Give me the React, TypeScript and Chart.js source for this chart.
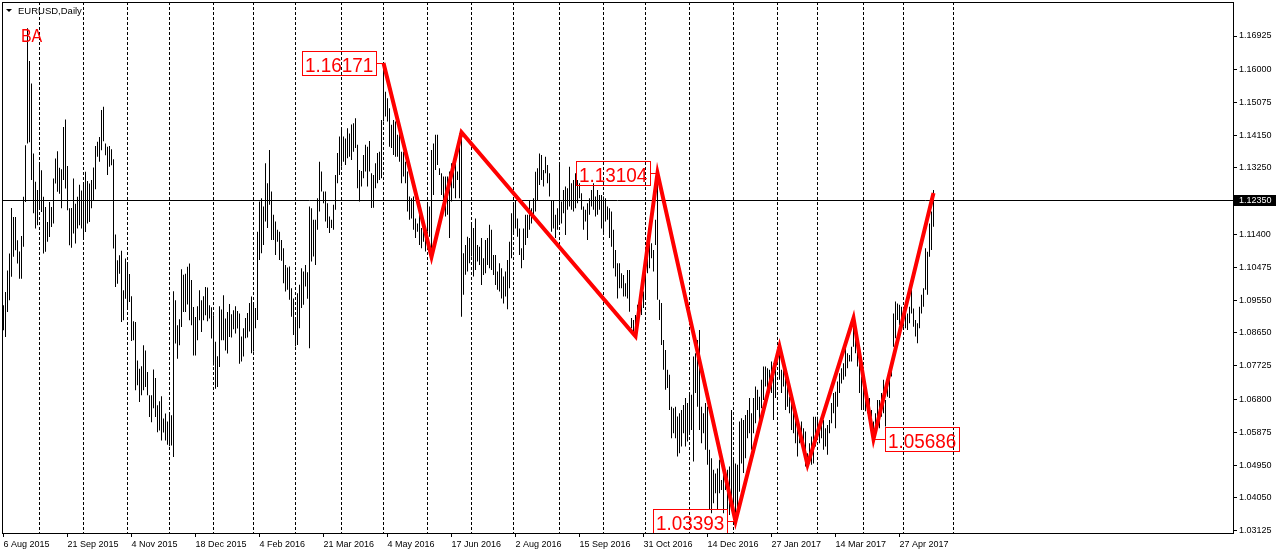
import React, { useEffect, useRef } from "react";
import { Chart, registerables } from "chart.js";

Chart.register(...registerables);

const chartTitle = "EURUSD,Daily";
const indicatorText = "BA";
const firstBarIndex = 1;

// Daily highs (bar 1 = 6 Aug 2015)
const highs = [
  1.0942, 1.0979, 1.1039, 1.1086, 1.1213, 1.1188, 1.1188, 1.1123, 1.1092, 1.1135, 1.1244, 1.1388, 1.1714, 1.1623, 1.156, 1.1365, 1.1286, 1.1263, 1.1334, 1.1318,
  1.1244, 1.1216, 1.1174, 1.123, 1.1216, 1.1295, 1.1351, 1.1371, 1.1325, 1.1321, 1.1439, 1.146, 1.133, 1.1212, 1.1213, 1.1295, 1.1225, 1.1244, 1.1278, 1.1262,
  1.1281, 1.1314, 1.1288, 1.1281, 1.1291, 1.1326, 1.1386, 1.1398, 1.1411, 1.1486, 1.1495, 1.1393, 1.1384, 1.1386, 1.1377, 1.1349, 1.1139, 1.1067, 1.1081, 1.1094,
  1.0984, 1.1072, 1.1058, 1.1029, 1.0967, 1.0897, 1.0895, 1.0788, 1.0765, 1.0772, 1.083, 1.0816, 1.0756, 1.0691, 1.0691, 1.0763, 1.0739, 1.0663, 1.0674, 1.0688,
  1.0626, 1.064, 1.0618, 1.0637, 1.0635, 1.0981, 1.0956, 1.0886, 1.0903, 1.1042, 1.1027, 1.103, 1.1049, 1.1058, 1.1012, 1.0937, 1.0909, 1.0939, 1.0984, 1.0956,
  1.0967, 1.0993, 1.0991, 1.0942, 1.0936, 1.0914, 1.084, 1.08, 1.0939, 1.093, 1.097, 1.0905, 1.0923, 1.0945, 1.0917, 1.0928, 1.0939, 1.0926, 1.0919,
  1.0855, 1.0878, 1.0906, 1.092, 1.0948, 1.0966, 1.0948, 1.0934, 1.1147, 1.1231, 1.124, 1.1217, 1.1338, 1.1282, 1.1375, 1.1259, 1.1194, 1.1175, 1.1152, 1.1147,
  1.1124, 1.1101, 1.1054, 1.1047, 1.105, 1.0989, 1.0961, 1.0906, 1.0975, 1.0999, 1.1045, 1.1036, 1.1054, 1.1034, 1.1217, 1.1212, 1.118, 1.118, 1.124, 1.1342,
  1.1315, 1.1259, 1.1259, 1.1226, 1.1189, 1.118, 1.1222, 1.1305, 1.1366, 1.1412, 1.1437, 1.1412, 1.1407, 1.1435, 1.1421, 1.1446, 1.1449, 1.1463, 1.1389, 1.1319,
  1.1316, 1.1361, 1.1389, 1.1384, 1.14, 1.131, 1.1305, 1.1338, 1.1366, 1.137, 1.1458, 1.1617, 1.1537, 1.1519, 1.1491, 1.1445, 1.1458, 1.1454, 1.1417, 1.144,
  1.137, 1.137, 1.1342, 1.1315, 1.1245, 1.124, 1.1245, 1.1184, 1.117, 1.1198, 1.1157, 1.1157, 1.1138, 1.1222, 1.1217, 1.1375, 1.1393, 1.1417, 1.1417, 1.1324,
  1.131, 1.1301, 1.1301, 1.1301, 1.1315, 1.1338, 1.1333, 1.1342, 1.1315, 1.1421, 1.1417, 1.1087, 1.111, 1.1133, 1.1129, 1.1166, 1.1157, 1.1184, 1.111, 1.1105,
  1.1129, 1.1073, 1.1124, 1.1129, 1.1166, 1.1152, 1.1082, 1.1082, 1.1036, 1.1059, 1.1045, 1.1022, 1.1036, 1.1068, 1.1119, 1.1198, 1.1221, 1.1235, 1.1184, 1.1156,
  1.1101, 1.1156, 1.1194, 1.1194, 1.1235, 1.1212, 1.124, 1.1314, 1.1324, 1.1365, 1.1361, 1.1319, 1.1356, 1.1333, 1.131, 1.1235, 1.1235, 1.1194, 1.1212, 1.1333,
  1.1231, 1.1263, 1.1273, 1.1268, 1.1328, 1.1282, 1.1291, 1.131, 1.1291, 1.1282, 1.1254, 1.1217, 1.1208, 1.1226, 1.124, 1.1263, 1.1282, 1.1245, 1.1263, 1.1249,
  1.1249, 1.1245, 1.124, 1.1217, 1.1212, 1.1203, 1.1152, 1.1096, 1.1059, 1.1059, 1.1031, 1.1026, 1.1003, 1.104, 1.104, 1.0906, 1.0901, 1.0915, 1.0943, 1.0952,
  1.0957, 1.098, 1.1026, 1.1087, 1.1133, 1.1115, 1.1096, 1.118, 1.1314, 1.0957, 1.0948, 1.0845, 1.0817, 1.0762, 1.0748, 1.0659, 1.0655, 1.0659, 1.0632, 1.0641,
  1.065, 1.0664, 1.0683, 1.0669, 1.0692, 1.0692, 1.0799, 1.0808, 1.0845, 1.0873, 1.0659, 1.0641, 1.0669, 1.0659, 1.0539, 1.0515, 1.0483, 1.0473, 1.0487, 1.0511,
  1.0455, 1.0506, 1.0474, 1.0483, 1.0492, 1.065, 1.0515, 1.0501, 1.0497, 1.0618, 1.0627, 1.0622, 1.0636, 1.065, 1.0683, 1.0641, 1.0683, 1.0715, 1.0706, 1.0687,
  1.0734, 1.0771, 1.0771, 1.0766, 1.0762, 1.0785, 1.078, 1.0799, 1.0808, 1.0826, 1.0762, 1.0771, 1.0743, 1.0752, 1.0687, 1.0673, 1.065, 1.0622, 1.0599, 1.059,
  1.0618, 1.0599, 1.059, 1.0529, 1.0557, 1.0576, 1.0631, 1.0631, 1.0631, 1.0608, 1.0608, 1.0622, 1.0599, 1.0608, 1.0622, 1.0669, 1.0697, 1.0701, 1.0729, 1.0752,
  1.0766, 1.078, 1.0826, 1.0808, 1.0803, 1.0826, 1.0901, 1.0864, 1.0826, 1.0817, 1.0743, 1.071, 1.0697, 1.0692, 1.0683, 1.065, 1.0618, 1.0641, 1.0678, 1.0678,
  1.0697, 1.0734, 1.0678, 1.0738, 1.0743, 1.0785, 1.0919, 1.0952, 1.0947, 1.0943, 1.0938, 1.0929, 1.0938, 1.0919, 1.0938, 1.0994, 1.0933, 1.0901, 1.0892, 1.0938,
  1.0971, 1.0989, 1.1101, 1.1091, 1.117, 1.1203, 1.1263,
];

// Daily lows
const lows = [
  1.0872, 1.0853, 1.0923, 1.0956, 1.1021, 1.1077, 1.1095, 1.1058, 1.1016, 1.1016, 1.1105, 1.123, 1.1393, 1.1396, 1.1291, 1.1198, 1.1156, 1.1165, 1.1216, 1.1202,
  1.1086, 1.1091, 1.1119, 1.1132, 1.116, 1.117, 1.1281, 1.1258, 1.1253, 1.1212, 1.1291, 1.1267, 1.1207, 1.1109, 1.1102, 1.1142, 1.1114, 1.1156, 1.1165, 1.1156,
  1.1128, 1.1146, 1.117, 1.1174, 1.1212, 1.1235, 1.1265, 1.1356, 1.1342, 1.1374, 1.1399, 1.136, 1.1305, 1.1328, 1.1332, 1.11, 1.0993, 1.1002, 1.103, 1.0895,
  1.09, 1.096, 1.0937, 1.0951, 1.0842, 1.0844, 1.0705, 1.0719, 1.0672, 1.0691, 1.0705, 1.0714, 1.0691, 1.063, 1.0616, 1.0655, 1.063, 1.0588, 1.0593, 1.0565,
  1.0587, 1.0565, 1.0553, 1.0549, 1.0551, 1.0519, 1.0835, 1.0793, 1.083, 1.0881, 1.0923, 1.0923, 1.0944, 1.09, 1.0886, 1.0802, 1.0802, 1.0844, 1.09, 1.0867,
  1.09, 1.0914, 1.0897, 1.0905, 1.0849, 1.0774, 1.0709, 1.0714, 1.077, 1.0844, 1.0844, 1.0816, 1.0807, 1.0853, 1.0852, 1.0875, 1.0863, 1.0877, 1.0779,
  1.0785, 1.0799, 1.085, 1.0852, 1.0869, 1.0808, 1.0813, 1.0878, 1.0901, 1.1068, 1.1087, 1.111, 1.1175, 1.1157, 1.1222, 1.1124, 1.1124, 1.1082, 1.1119, 1.1068,
  1.1066, 1.1003, 1.098, 1.0985, 1.0957, 1.091, 1.0859, 1.0827, 1.0831, 1.0878, 1.0934, 1.0943, 1.0994, 1.096, 1.0822, 1.1064, 1.1078, 1.1054, 1.1152, 1.1203,
  1.1259, 1.1226, 1.1175, 1.1157, 1.1143, 1.1157, 1.1152, 1.1208, 1.1282, 1.1305, 1.1328, 1.1342, 1.1333, 1.1352, 1.1356, 1.1347, 1.137, 1.138, 1.1268, 1.1231,
  1.1273, 1.1296, 1.1315, 1.1273, 1.1315, 1.1213, 1.1214, 1.1268, 1.1282, 1.1291, 1.1296, 1.1454, 1.1468, 1.1454, 1.1384, 1.138, 1.1361, 1.1356, 1.1356, 1.1342,
  1.1282, 1.1301, 1.1282, 1.1203, 1.118, 1.1184, 1.1152, 1.1129, 1.1147, 1.111, 1.1101, 1.1119, 1.1092, 1.1147, 1.1133, 1.1077, 1.1249, 1.1319, 1.1333, 1.1305,
  1.1249, 1.1213, 1.1189, 1.1194, 1.1129, 1.1231, 1.1268, 1.124, 1.1291, 1.124, 1.091, 1.0971, 1.1027, 1.1036, 1.1059, 1.1078, 1.1022, 1.104, 1.1064, 1.1054,
  1.0998, 1.1026, 1.1031, 1.1054, 1.1045, 1.104, 1.1026, 1.0998, 1.0985, 1.098, 1.0961, 1.0947, 1.0966, 1.0931, 1.0989, 1.1073, 1.1142, 1.1156, 1.1133, 1.1082,
  1.1045, 1.1068, 1.111, 1.1129, 1.1152, 1.117, 1.1189, 1.1203, 1.1235, 1.1277, 1.1291, 1.1273, 1.131, 1.1282, 1.1245, 1.1147, 1.1156, 1.1129, 1.1152, 1.117,
  1.117, 1.1198, 1.1138, 1.1208, 1.1217, 1.1208, 1.1203, 1.1212, 1.1226, 1.124, 1.1208, 1.1152, 1.1175, 1.1124, 1.1194, 1.1217, 1.1208, 1.1189, 1.1194, 1.1208,
  1.1156, 1.1142, 1.1175, 1.118, 1.1129, 1.1105, 1.1045, 1.1022, 1.0961, 1.0989, 1.0989, 1.0966, 1.0966, 1.0961, 1.0924, 1.0878, 1.0864, 1.0882, 1.0882, 1.0915,
  1.0915, 1.0934, 1.0957, 1.1031, 1.1045, 1.1073, 1.1036, 1.111, 1.0957, 1.0901, 1.0831, 1.0762, 1.0706, 1.0711, 1.065, 1.0571, 1.0585, 1.0571, 1.052, 1.0529,
  1.0548, 1.0585, 1.0548, 1.0562, 1.0585, 1.0594, 1.0506, 1.0697, 1.0659, 1.0594, 1.0557, 1.0585, 1.0539, 1.0497, 1.0371, 1.0362, 1.039, 1.0418, 1.0371, 1.0418,
  1.0427, 1.0362, 1.0427, 1.0371, 1.0357, 1.0399, 1.0353, 1.0339, 1.0376, 1.0422, 1.0501, 1.0474, 1.0515, 1.0571, 1.0585, 1.0539, 1.0585, 1.0613, 1.065, 1.0613,
  1.0655, 1.0678, 1.0715, 1.0678, 1.0724, 1.0697, 1.0622, 1.0683, 1.0785, 1.0734, 1.0697, 1.0715, 1.065, 1.0659, 1.0641, 1.0594, 1.0585, 1.0557, 1.052, 1.0557,
  1.0571, 1.0548, 1.0492, 1.0497, 1.0501, 1.0497, 1.0501, 1.0548, 1.0576, 1.0557, 1.0571, 1.0539, 1.0548, 1.0525, 1.0585, 1.0613, 1.0641, 1.0599, 1.0659, 1.0697,
  1.0724, 1.0734, 1.0743, 1.0766, 1.0785, 1.0785, 1.0826, 1.0808, 1.0771, 1.0697, 1.065, 1.065, 1.0646, 1.0641, 1.0636, 1.0631, 1.0571, 1.0599, 1.0599, 1.0599,
  1.0631, 1.0641, 1.0604, 1.0687, 1.0683, 1.0743, 1.0826, 1.085, 1.0901, 1.0887, 1.0901, 1.0882, 1.0878, 1.0873, 1.0892, 1.0919, 1.0882, 1.0855, 1.0836, 1.0878,
  1.0919, 1.0938, 1.0985, 1.0971, 1.1077, 1.1096, 1.1161,
];

const dateTickBars = [1, 33, 65, 97, 129, 161, 193, 225, 257, 289, 321, 353, 385, 417, 449];
const dateTickLabels = [
  "6 Aug 2015", "21 Sep 2015", "4 Nov 2015", "18 Dec 2015", "4 Feb 2016", "21 Mar 2016", "4 May 2016",
  "17 Jun 2016", "2 Aug 2016", "15 Sep 2016", "31 Oct 2016", "14 Dec 2016", "27 Jan 2017", "14 Mar 2017", "27 Apr 2017",
];
const monthStartBars = [19, 41, 63, 84, 106, 126, 147, 170, 191, 213, 235, 256, 279, 301, 322, 344, 366, 388, 408, 431, 451, 476];
const priceTicks = [1.16925, 1.16, 1.15075, 1.1415, 1.1325, 1.114, 1.10475, 1.0955, 1.0865, 1.07725, 1.068, 1.05875, 1.0495, 1.0405, 1.03125];
const currentPrice = 1.1235;

const zigzagBars = [191, 215, 230, 317, 328, 367, 389, 403, 426, 436, 466];
const zigzagPrices = [1.16171, 1.1077, 1.1424, 1.0855, 1.13104, 1.03393, 1.0827, 1.0497, 1.0906, 1.05686, 1.1255];

const pivotLabelBars = [191, 328, 367, 436];
const pivotLabelPrices = [1.16171, 1.13104, 1.03393, 1.05686];
const pivotLabelSides = ["left", "left", "left", "right"];

const X_MIN = 0.25;
const X_MAX = 615.75;
const Y_MIN = 1.03069;
const Y_MAX = 1.17873;

const RED = "#ff0000";
const FONT = "'Liberation Sans', Arial, sans-serif";

const overlayPlugin = {
  id: "mt4Overlay",
  beforeDatasetsDraw(chart: any) {
    const { ctx, chartArea: a, scales } = chart;
    const xs = scales.x;
    const ys = scales.y;
    ctx.save();
    ctx.beginPath();
    ctx.rect(a.left, a.top, a.right - a.left, a.bottom - a.top);
    ctx.clip();
    ctx.strokeStyle = "#000";
    ctx.lineWidth = 1;
    ctx.setLineDash([3, 2]);
    for (const b of monthStartBars) {
      const x = Math.floor(xs.getPixelForValue(b)) + 0.5;
      ctx.beginPath();
      ctx.moveTo(x, a.top);
      ctx.lineTo(x, a.bottom);
      ctx.stroke();
    }
    ctx.setLineDash([]);
    const py = Math.floor(ys.getPixelForValue(currentPrice)) + 0.5;
    ctx.beginPath();
    ctx.moveTo(a.left, py);
    ctx.lineTo(a.right, py);
    ctx.stroke();
    ctx.restore();
  },
  afterDatasetsDraw(chart: any) {
    const { ctx, chartArea: a, scales } = chart;
    const xs = scales.x;
    const ys = scales.y;
    ctx.save();
    const sx = 0.9;
    ctx.font = `21px ${FONT}`;
    ctx.lineWidth = 1;
    ctx.strokeStyle = RED;
    ctx.fillStyle = RED;
    for (let i = 0; i < pivotLabelBars.length; i++) {
      const px = Math.round(xs.getPixelForValue(pivotLabelBars[i]));
      const py = ys.getPixelForValue(pivotLabelPrices[i]);
      const txt = pivotLabelPrices[i].toFixed(5);
      const tw = ctx.measureText(txt).width * sx;
      const bw = Math.round(tw + 6);
      const bh = 24;
      const left = pivotLabelSides[i] === "left" ? px - 8 - bw : px + 11;
      const top = Math.round(py - bh / 2);
      ctx.strokeRect(left + 0.5, top + 0.5, bw, bh);
      const cy = Math.round(py) + 0.5;
      ctx.beginPath();
      if (pivotLabelSides[i] === "left") {
        ctx.moveTo(left + bw, cy);
        ctx.lineTo(px, cy);
      } else {
        ctx.moveTo(px, cy);
        ctx.lineTo(left, cy);
      }
      ctx.stroke();
      ctx.save();
      ctx.translate(left + 3, top + bh - 3);
      ctx.scale(sx, 1);
      ctx.textBaseline = "alphabetic";
      ctx.textAlign = "left";
      ctx.fillText(txt, 0, 0);
      ctx.restore();
    }
    // indicator text
    ctx.save();
    ctx.font = `18.5px ${FONT}`;
    ctx.translate(a.left + 19, a.top + 40);
    ctx.scale(0.86, 1);
    ctx.textBaseline = "alphabetic";
    ctx.fillText(indicatorText, 0, 0);
    ctx.restore();
    ctx.restore();
  },
  afterDraw(chart: any) {
    const { ctx, chartArea: a, scales } = chart;
    const ys = scales.y;
    ctx.save();
    ctx.strokeStyle = "#000";
    ctx.lineWidth = 1;
    ctx.strokeRect(a.left + 0.5, a.top + 0.5, a.right - a.left, a.bottom - a.top);
    // title
    ctx.fillStyle = "#000";
    ctx.beginPath();
    ctx.moveTo(6, 9);
    ctx.lineTo(12, 9);
    ctx.lineTo(9, 12);
    ctx.closePath();
    ctx.fill();
    ctx.font = `9.5px ${FONT}`;
    ctx.textBaseline = "alphabetic";
    ctx.textAlign = "left";
    ctx.fillText(chartTitle, 18, 14);
    // current price tag
    const py = Math.floor(ys.getPixelForValue(currentPrice));
    ctx.fillRect(a.right + 1, py - 5, 43, 11);
    ctx.fillStyle = "#fff";
    ctx.font = `9px ${FONT}`;
    ctx.textBaseline = "middle";
    ctx.fillText(currentPrice.toFixed(5), a.right + 6, py + 0.5);
    ctx.restore();
  },
};

export default function App() {
  const canvasRef = useRef<HTMLCanvasElement | null>(null);

  useEffect(() => {
    const canvas = canvasRef.current;
    if (!canvas) return;
    Chart.defaults.font.family = FONT;
    Chart.defaults.color = "#000";
    const barData = highs.map((h, i) => ({ x: i + firstBarIndex, y: [lows[i], h] }));
    const zigzagData = zigzagBars.map((b, i) => ({ x: b, y: zigzagPrices[i] }));
    const chart = new Chart(canvas, {
      type: "bar",
      data: {
        datasets: [
          {
            type: "line",
            label: "ZigZag",
            data: zigzagData as any,
            borderColor: RED,
            backgroundColor: RED,
            borderWidth: 4,
            pointRadius: 0,
            tension: 0,
            fill: false,
            order: 0,
            borderJoinStyle: "miter",
          } as any,
          {
            type: "bar",
            label: "EURUSD",
            data: barData as any,
            backgroundColor: "#000",
            borderWidth: 0,
            barThickness: 1,
            inflateAmount: 0,
            order: 1,
          } as any,
        ],
      },
      options: {
        responsive: false,
        animation: false,
        devicePixelRatio: 1,
        layout: { padding: { left: 2, top: 2, right: 0, bottom: 0 } },
        plugins: { legend: { display: false }, tooltip: { enabled: false } },
        scales: {
          x: {
            type: "linear",
            min: X_MIN,
            max: X_MAX,
            offset: false,
            afterBuildTicks: (s: any) => {
              s.ticks = dateTickBars.map((v) => ({ value: v }));
            },
            afterFit: (s: any) => {
              s.height = 22;
              s.paddingLeft = 0;
              s.paddingRight = 0;
            },
            ticks: {
              autoSkip: false,
              maxRotation: 0,
              minRotation: 0,
              align: "start",
              padding: 2,
              color: "#000",
              font: { size: 9, family: FONT },
              callback: (v: any) => {
                const k = dateTickBars.indexOf(Number(v));
                return k >= 0 ? dateTickLabels[k] : "";
              },
            },
            grid: { drawOnChartArea: false, drawTicks: true, tickLength: 4, color: "#000", lineWidth: 1, offset: false },
            border: { display: false },
          },
          y: {
            type: "linear",
            position: "right",
            min: Y_MIN,
            max: Y_MAX,
            afterBuildTicks: (s: any) => {
              s.ticks = priceTicks.map((v) => ({ value: v }));
            },
            afterFit: (s: any) => {
              s.width = 43;
              s.paddingTop = 0;
              s.paddingBottom = 0;
            },
            ticks: {
              padding: 2,
              color: "#000",
              font: { size: 9, family: FONT },
              callback: (v: any) => Number(v).toFixed(5),
            },
            grid: { drawOnChartArea: false, drawTicks: true, tickLength: 4, color: "#000", lineWidth: 1 },
            border: { display: false },
          },
        },
      } as any,
      plugins: [overlayPlugin],
    });
    return () => chart.destroy();
  }, []);

  return (
    <div style={{ position: "absolute", left: 0, top: 0, width: 1276, height: 555, background: "#fff" }}>
      <canvas ref={canvasRef} width={1276} height={555} style={{ display: "block" }} />
    </div>
  );
}
